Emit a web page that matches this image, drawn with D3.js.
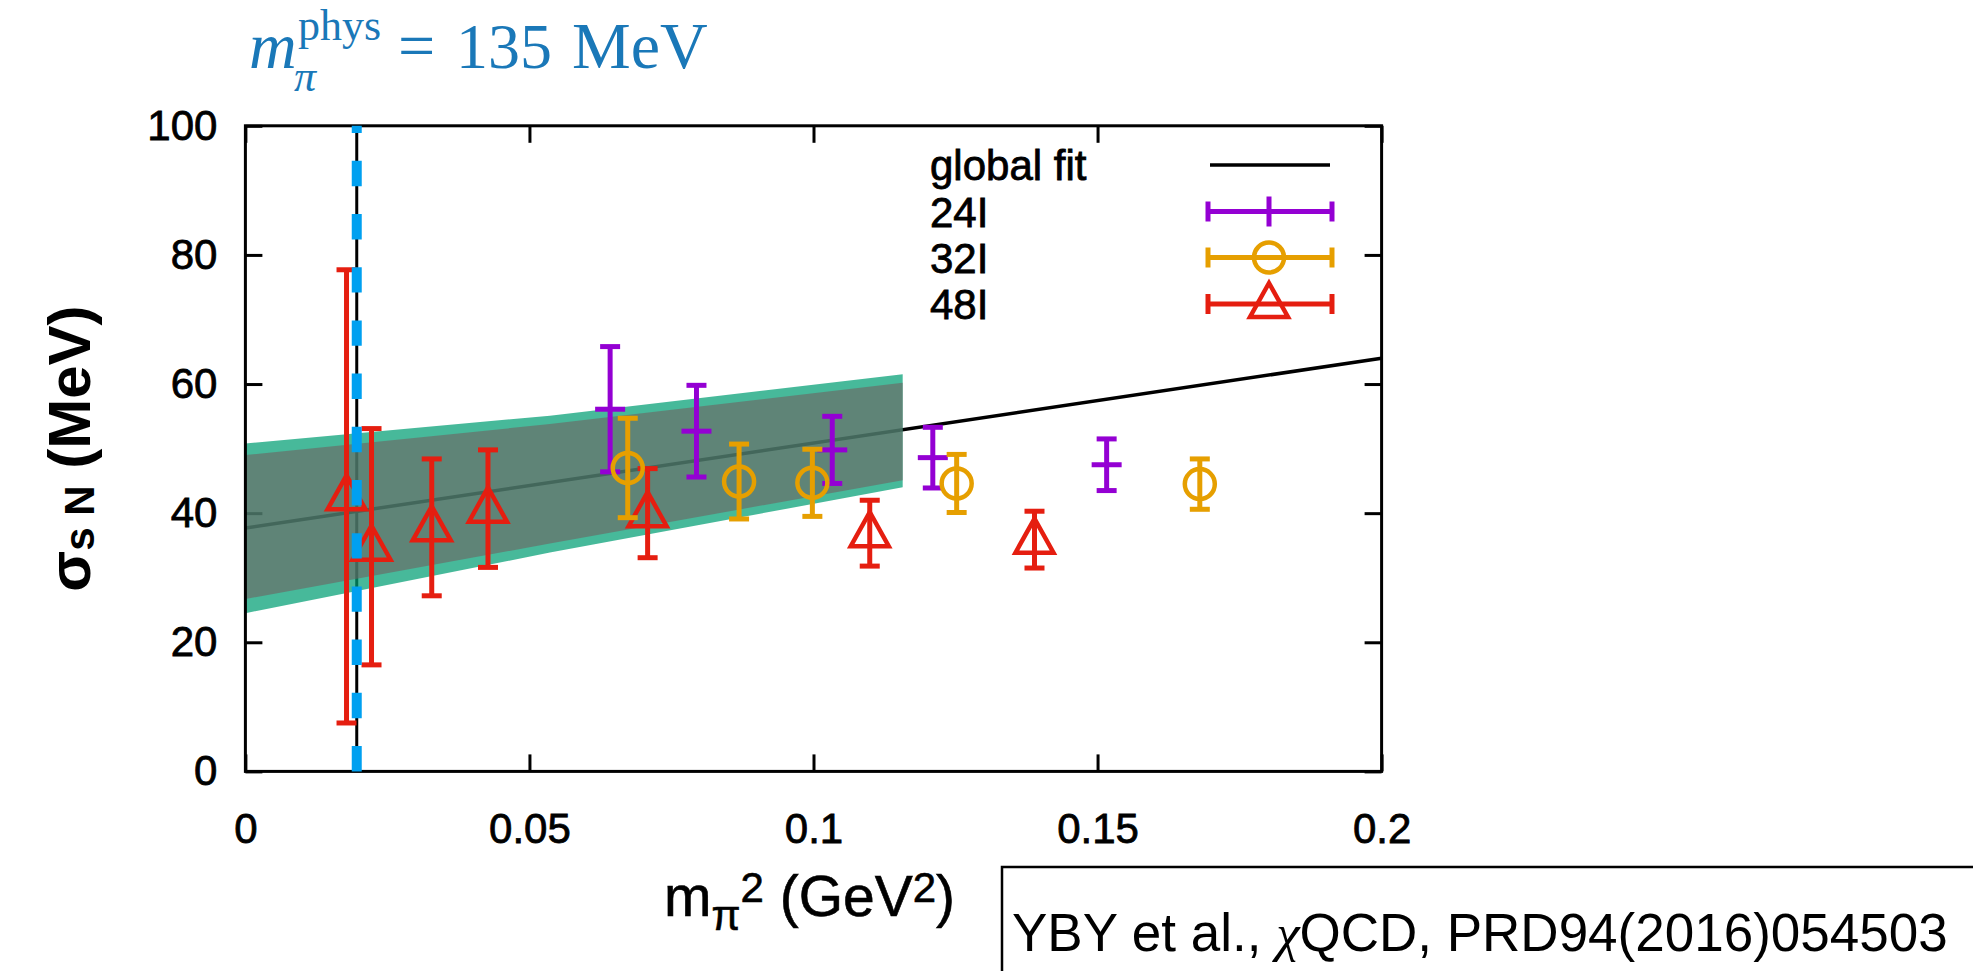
<!DOCTYPE html>
<html><head><meta charset="utf-8">
<script src="https://cdn.jsdelivr.net/npm/d3@7"></script>
<style>body{margin:0;background:#fff}svg{display:block}</style>
</head><body><svg id="c" width="1973" height="971"></svg>
<script>
// ---------- data ----------
const xTicks = [0, 0.05, 0.1, 0.15, 0.2];
const yTicks = [0, 20, 40, 60, 80, 100];
const physX = 0.0196;               // m_pi^phys squared (GeV^2)
const fitX = [0, 0.2];
const fitY = [37.7, 64.0];
const bandX       = [0, 0.0536, 0.1157];
const bandOuterHi = [50.8, 55.1, 61.5];
const bandInnerHi = [49.0, 53.8, 60.2];
const bandInnerLo = [26.7, 35.3, 45.1];
const bandOuterLo = [24.5, 33.9, 44.0];

const s24I_x   = [0.0642, 0.0794, 0.1033, 0.1210, 0.1516];
const s24I_y   = [56.1, 52.7, 49.8, 48.6, 47.5];
const s24I_err = [9.7, 7.1, 5.2, 4.7, 4.0];

const s32I_x   = [0.0673, 0.0869, 0.0998, 0.1252, 0.1680];
const s32I_y   = [47.0, 44.9, 44.7, 44.6, 44.5];
const s32I_err = [7.7, 5.8, 5.2, 4.5, 3.9];

const s48I_x   = [0.0178, 0.0222, 0.0328, 0.0427, 0.0708, 0.1099, 0.1389];
const s48I_y   = [42.6, 34.8, 37.8, 40.7, 40.0, 36.9, 35.9];
const s48I_err = [35.1, 18.3, 10.6, 9.1, 6.9, 5.1, 4.4];

const legendLabels = ["global fit", "24I", "32I", "48I"];
const citation = ["YBY et al., ", "χ", "QCD, PRD94(2016)054503"];

// ---------- setup ----------
const svg = d3.select('#c');
const sans = '"Liberation Sans", Arial, Helvetica, sans-serif';
const serif = '"Liberation Serif", "Times New Roman", Times, serif';
const x = d3.scaleLinear().domain([0, 0.2]).range([245.4, 1381.6]);
const y = d3.scaleLinear().domain([0, 100]).range([771.4, 125.8]);
const COL = {p: '#9400d3', o: '#e69f00', r: '#e51e10', blue: '#00a0f0', title: '#1a78b8'};
const EW = 5, CAP = 10;

// black vertical line at physical point
svg.append('line').attr('x1', x(physX)).attr('x2', x(physX))
  .attr('y1', y(0)).attr('y2', y(100)).attr('stroke', '#000').attr('stroke-width', 3);

function styleAxis(g) {
  g.select('.domain').remove();
  g.attr('font-family', sans).attr('font-size', 42);
  g.selectAll('line').attr('stroke', '#000').attr('stroke-width', 3);
  g.selectAll('text').attr('fill', '#000').attr('stroke', '#000').attr('stroke-width', 0.8);
}
svg.append('g').attr('transform', `translate(0,${y(0)})`)
  .call(d3.axisBottom(x).tickValues(xTicks).tickSizeInner(-17).tickSizeOuter(0).tickPadding(42).tickFormat(d => String(d)))
  .call(styleAxis);
svg.append('g').attr('transform', `translate(0,${y(100)})`)
  .call(d3.axisTop(x).tickValues(xTicks).tickSizeInner(-17).tickSizeOuter(0).tickFormat(() => ''))
  .call(styleAxis);
svg.append('g').attr('transform', `translate(${x(0)},0)`)
  .call(d3.axisLeft(y).tickValues(yTicks).tickSizeInner(-17).tickSizeOuter(0).tickPadding(28).tickFormat(d => String(d)))
  .call(styleAxis);
svg.append('g').attr('transform', `translate(${x(0.2)},0)`)
  .call(d3.axisRight(y).tickValues(yTicks).tickSizeInner(-17).tickSizeOuter(0).tickFormat(() => ''))
  .call(styleAxis);

// fit line
svg.append('path').datum(fitX.map((d, i) => [d, fitY[i]]))
  .attr('d', d3.line().x(d => x(d[0])).y(d => y(d[1])))
  .attr('fill', 'none').attr('stroke', '#000').attr('stroke-width', 3.5);

// band
const bandData = bandX.map((d, i) => ({x: d, oh: bandOuterHi[i], ih: bandInnerHi[i], il: bandInnerLo[i], ol: bandOuterLo[i]}));
svg.append('path').datum(bandData)
  .attr('d', d3.area().x(d => x(d.x)).y0(d => y(d.ol)).y1(d => y(d.oh)))
  .attr('fill', 'rgb(0,158,115)').attr('fill-opacity', 0.72);
svg.append('path').datum(bandData)
  .attr('d', d3.area().x(d => x(d.x)).y0(d => y(d.il)).y1(d => y(d.ih)))
  .attr('fill', 'rgb(111,96,97)').attr('fill-opacity', 0.6);

// frame
svg.append('rect').attr('x', x(0)).attr('y', y(100))
  .attr('width', x(0.2) - x(0)).attr('height', y(0) - y(100))
  .attr('fill', 'none').attr('stroke', '#000').attr('stroke-width', 3);

// markers
function marker(g, cx, cy, kind, color) {
  if (kind === 'plus') {
    g.append('line').attr('x1', cx - 15).attr('x2', cx + 15).attr('y1', cy).attr('y2', cy)
      .attr('stroke', color).attr('stroke-width', EW);
  } else if (kind === 'circle') {
    g.append('circle').attr('cx', cx).attr('cy', cy).attr('r', 15)
      .attr('fill', 'none').attr('stroke', color).attr('stroke-width', 4.5);
  } else {
    g.append('path').attr('d', `M${cx},${cy - 21}L${cx + 19},${cy + 13}L${cx - 19},${cy + 13}Z`)
      .attr('fill', 'none').attr('stroke', color).attr('stroke-width', 4.5).attr('stroke-linejoin', 'miter');
  }
}
function series(xs, ys, es, kind, color) {
  const g = svg.append('g');
  xs.forEach((xv, i) => {
    const cx = x(xv), top = y(ys[i] + es[i]), bot = y(ys[i] - es[i]);
    g.append('line').attr('x1', cx).attr('x2', cx).attr('y1', top).attr('y2', bot)
      .attr('stroke', color).attr('stroke-width', EW);
    [top, bot].forEach(yy => g.append('line').attr('x1', cx - CAP).attr('x2', cx + CAP)
      .attr('y1', yy).attr('y2', yy).attr('stroke', color).attr('stroke-width', EW));
    marker(g, cx, y(ys[i]), kind, color);
  });
}
series(s48I_x, s48I_y, s48I_err, 'tri', COL.r);
series(s24I_x, s24I_y, s24I_err, 'plus', COL.p);
series(s32I_x, s32I_y, s32I_err, 'circle', COL.o);

// legend
const legRows = [165, 211.5, 257.5, 304];
const legKinds = [null, 'plus', 'circle', 'tri'];
const legCols = ['#000', COL.p, COL.o, COL.r];
const lg = svg.append('g');
legendLabels.forEach((t, i) => {
  lg.append('text').attr('x', 930).attr('y', legRows[i] + 15).text(t)
    .attr('font-family', sans).attr('font-size', 42).attr('fill', '#000')
    .attr('stroke', '#000').attr('stroke-width', 0.8);
  const yy = legRows[i];
  if (i === 0) {
    lg.append('line').attr('x1', 1210).attr('x2', 1330).attr('y1', yy).attr('y2', yy)
      .attr('stroke', '#000').attr('stroke-width', 3.5);
  } else {
    const c = legCols[i];
    lg.append('line').attr('x1', 1208).attr('x2', 1332).attr('y1', yy).attr('y2', yy).attr('stroke', c).attr('stroke-width', EW);
    [1208, 1332].forEach(xx => lg.append('line').attr('x1', xx).attr('x2', xx).attr('y1', yy - CAP).attr('y2', yy + CAP)
      .attr('stroke', c).attr('stroke-width', EW));
    if (legKinds[i] === 'plus') {
      lg.append('line').attr('x1', 1269).attr('x2', 1269).attr('y1', yy - 15).attr('y2', yy + 15).attr('stroke', c).attr('stroke-width', EW);
    } else marker(lg, 1269, yy, legKinds[i], c);
  }
});

// blue dashed physical point line (drawn bottom to top)
svg.append('line').attr('x1', x(physX)).attr('x2', x(physX))
  .attr('y1', y(0)).attr('y2', y(100))
  .attr('stroke', COL.blue).attr('stroke-width', 10).attr('stroke-dasharray', '25.4 27.8');

// y label
const yl = svg.append('text').attr('transform', `translate(90,${(y(0) + y(100)) / 2}) rotate(-90)`)
  .attr('text-anchor', 'middle').attr('font-family', sans).attr('font-weight', 'bold')
  .attr('font-size', 60).attr('fill', '#000');
yl.append('tspan').text('σ');
yl.append('tspan').attr('font-size', 42).attr('dy', 4).text('s N');
yl.append('tspan').attr('dy', -4).text(' (MeV)');

// x label
const xl = svg.append('text').attr('x', 664).attr('y', 916)
  .attr('font-family', sans).attr('font-size', 57).attr('fill', '#000')
  .attr('stroke', '#000').attr('stroke-width', 0.6);
xl.append('tspan').text('m');
xl.append('tspan').attr('font-size', 42).attr('dy', 14).text('π');
xl.append('tspan').attr('font-size', 42).attr('dy', -28).text('2');
xl.append('tspan').attr('dy', 14).text(' (GeV');
xl.append('tspan').attr('font-size', 42).attr('dy', -14).text('2');
xl.append('tspan').attr('dy', 14).text(')');

// title
const tg = svg.append('g').attr('fill', COL.title).attr('font-family', serif);
tg.append('text').attr('x', 249).attr('y', 68).attr('font-size', 66).attr('font-style', 'italic').text('m');
tg.append('text').attr('x', 294).attr('y', 91).attr('font-size', 44).attr('font-style', 'italic').text('π');
tg.append('text').attr('x', 298).attr('y', 40).attr('font-size', 44).text('phys');
tg.append('text').attr('x', 398).attr('y', 68).attr('font-size', 66).text('=');
tg.append('text').attr('x', 456).attr('y', 68).attr('font-size', 64).text('135');
tg.append('text').attr('x', 572).attr('y', 68).attr('font-size', 66).text('MeV');

// citation box
svg.append('rect').attr('x', 1002).attr('y', 867).attr('width', 1100).attr('height', 200)
  .attr('fill', 'none').attr('stroke', '#000').attr('stroke-width', 2.5);
const ct = svg.append('text').attr('x', 1012).attr('y', 951)
  .attr('font-family', sans).attr('font-size', 53).attr('fill', '#000');
ct.append('tspan').text(citation[0]);
ct.append('tspan').attr('font-family', serif).attr('font-style', 'italic').text(citation[1]);
ct.append('tspan').text(citation[2]);
</script></body></html>
